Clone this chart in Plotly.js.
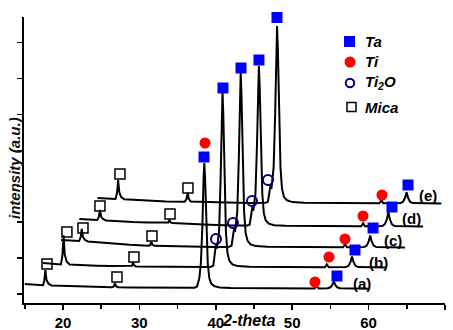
<!DOCTYPE html>
<html>
<head>
<meta charset="utf-8">
<script src="https://cdn.plot.ly/plotly-3.0.1.min.js"></script>
<style>html,body{margin:0;padding:0;background:#fff;}#chart{width:453px;height:330px;}</style>
</head>
<body>
<div id="chart"></div>
<script>
// ---- data: XRD patterns (local 2-theta, intensity a.u.) ----
const curveNames = ['(a)', '(b)', '(c)', '(d)', '(e)'];
// waterfall stacking of the patterns
const xShift = [0, 2.38, 4.76, 7.14, 9.52];
const yOffset = [0, 210, 410, 620, 850];

const theta_a = [15.0, 16.0, 17.0, 17.4, 17.55, 17.7, 17.85, 18.1, 18.5, 19.0, 20.0, 22.0, 24.0, 26.4, 26.65, 26.8, 26.95, 27.2, 29.0, 32.0, 35.0, 36.5, 37.2, 37.55, 37.85, 38.05, 38.25, 38.4, 38.5, 38.6, 38.75, 38.95, 39.15, 39.4, 39.8, 40.5, 42.0, 45.0, 48.0, 51.0, 52.9, 53.2, 53.5, 54.65, 55.0, 55.25, 55.45, 55.65, 55.9, 56.25, 58.0, 60.0];
const int_a = [190, 185, 180, 178, 223, 328, 230, 193, 176, 175, 172, 166, 162, 158, 165, 198, 168, 158, 155, 152, 150, 150, 153, 165, 250, 400, 775, 1250, 1400, 1250, 775, 400, 250, 194, 169, 156, 150, 150, 148, 146, 146, 166, 146, 148, 157, 181, 216, 181, 157, 148, 144, 143];

const theta_bcde = [15.0, 16.0, 17.0, 17.35, 17.55, 17.7, 17.85, 18.1, 18.5, 20.0, 22.0, 24.0, 26.4, 26.65, 26.8, 26.95, 27.2, 29.0, 32.0, 35.0, 36.5, 37.0, 37.3, 37.5, 37.65, 37.76, 37.88, 38.05, 38.25, 38.4, 38.5, 38.6, 38.75, 38.95, 39.15, 39.4, 39.8, 40.5, 42.0, 45.0, 48.0, 51.0, 51.9, 52.15, 52.4, 54.65, 55.0, 55.25, 55.45, 55.65, 55.9, 56.25, 58.0, 60.0];
const int_b = [190, 185, 178, 176, 263, 466, 276, 205, 174, 168, 163, 160, 156, 163, 196, 166, 156, 154, 152, 150, 150, 153, 165, 290, 380, 335, 400, 500, 1025, 1690, 1900, 1690, 1025, 500, 290, 211, 176, 159, 152, 150, 148, 147, 147, 177, 147, 149, 163, 201, 256, 201, 163, 149, 146, 146];
const int_c = [220, 216, 212, 210, 246, 330, 252, 222, 206, 195, 183, 172, 162, 169, 202, 172, 162, 158, 154, 151, 150, 153, 163, 265, 340, 300, 370, 498, 1020, 1680, 1890, 1680, 1020, 498, 289, 211, 176, 159, 152, 150, 148, 147, 147, 177, 147, 149, 164, 206, 266, 206, 164, 149, 146, 146];
const int_d = [220, 216, 212, 210, 240, 310, 245, 220, 206, 196, 190, 185, 180, 186, 210, 186, 180, 172, 163, 155, 152, 155, 165, 267, 342, 302, 365, 470, 950, 1558, 1750, 1558, 950, 470, 278, 206, 174, 158, 153, 150, 149, 148, 148, 178, 148, 150, 168, 217, 287, 217, 168, 150, 146, 146];
const int_e = [200, 196, 192, 190, 247, 380, 257, 209, 187, 180, 172, 166, 162, 190, 252, 192, 164, 158, 154, 151, 150, 153, 162, 258, 330, 290, 370, 504, 1035, 1708, 1920, 1708, 1035, 504, 292, 212, 177, 159, 152, 150, 149, 148, 148, 178, 148, 149, 163, 202, 257, 202, 163, 149, 146, 146];

const curveTheta = [theta_a, theta_bcde, theta_bcde, theta_bcde, theta_bcde];
const curveInt = [int_a, int_b, int_c, int_d, int_e];

// phase markers: pattern index, local 2-theta, intensity
const ta_curve = [0, 0, 1, 1, 2, 2, 3, 3, 4, 4];
const ta_theta = [38.46, 55.86, 38.56, 55.84, 38.54, 55.82, 38.51, 55.92, 38.49, 55.64];
const ta_int = [1460, 270, 1940, 320, 1940, 340, 1810, 340, 2005, 330];

const ti_curve = [0, 0, 1, 2, 3, 4];
const ti_theta = [38.59, 52.98, 52.44, 52.15, 52.13, 52.23];
const ti_int = [1600, 210, 250, 230, 250, 230];

const ti2o_curve = [1, 2, 3, 4];
const ti2o_theta = [37.65, 37.49, 37.60, 37.31];
const ti2o_int = [430, 390, 400, 380];

const mica_curve = [0, 0, 1, 1, 2, 2, 3, 3, 4, 4];
const mica_theta = [17.91, 27.07, 18.14, 26.91, 17.86, 26.89, 17.70, 26.87, 17.94, 26.84];
const mica_int = [390, 260, 500, 250, 340, 260, 350, 270, 440, 300];

const xTicks = [20, 30, 40, 50, 60, 70];
const phaseNames = ['Ta', 'Ti', 'Ti<sub>2</sub>O', 'Mica'];

// ---- build traces ----
const traces = [];
for (let i = 0; i < curveNames.length; i++) {
  traces.push({
    type: 'scatter', mode: 'lines', name: curveNames[i],
    x: curveTheta[i].map(t => t + xShift[i]),
    y: curveInt[i].map(v => v + yOffset[i]),
    line: {color: '#000', width: 2},
    showlegend: false, hoverinfo: 'skip'
  });
}
function markerTrace(name, cidx, th, it, marker) {
  return {
    type: 'scatter', mode: 'markers', name: name,
    x: th.map((t, k) => t + xShift[cidx[k]]),
    y: it.map((v, k) => v + yOffset[cidx[k]]),
    marker: marker, cliponaxis: false, showlegend: false, hoverinfo: 'skip'
  };
}
traces.push(markerTrace('Mica', mica_curve, mica_theta, mica_int,
  {symbol: 'square-open', size: 10, color: '#000', line: {width: 1.5, color: '#000'}}));
traces.push(markerTrace('Ti2O', ti2o_curve, ti2o_theta, ti2o_int,
  {symbol: 'circle-open', size: 10, color: '#000080', line: {width: 2, color: '#000080'}}));
traces.push(markerTrace('Ti', ti_curve, ti_theta, ti_int,
  {symbol: 'circle', size: 11, color: '#FF0000'}));
traces.push(markerTrace('Ta', ta_curve, ta_theta, ta_int,
  {symbol: 'square', size: 11, color: '#0000FF'}));

// ---- layout ----
const FONT = 'Liberation Sans, Arial, sans-serif';
const W = 453, H = 330, ML = 24, MR = 8, MT = 17, MB = 27;
const PW = W - ML - MR, PH = H - MT - MB;
const px2paperX = px => (px - ML) / PW;
const py2paperY = py => (H - MB - py) / PH;

const annotations = [];
// curve labels
const labelX = [59.14, 61.36, 63.19, 65.68, 67.77];
const labelY = [200, 410, 630, 850, 1080];
for (let i = 0; i < curveNames.length; i++) {
  annotations.push({x: labelX[i], y: labelY[i], xref: 'x', yref: 'y', text: curveNames[i],
    showarrow: false, xanchor: 'center', yanchor: 'middle',
    font: {family: FONT, size: 15, color: '#000', weight: 'bold'}});
}
// axis titles
annotations.push({x: px2paperX(249), y: py2paperY(330), xref: 'paper', yref: 'paper', text: '2-theta',
  showarrow: false, xanchor: 'center', yanchor: 'bottom', borderpad: 0,
  font: {family: FONT, size: 16, color: '#000', weight: 'bold', style: 'italic'}});
annotations.push({x: px2paperX(15), y: py2paperY(168), xref: 'paper', yref: 'paper', text: 'intensity (a.u.)',
  showarrow: false, xanchor: 'center', yanchor: 'middle', textangle: -90,
  font: {family: FONT, size: 15, color: '#111', weight: 'bold', style: 'italic'}});

// legend (symbols as shapes, text as annotations)
const legY = [41.5, 62, 83, 107];
const shapes = [
  {type: 'rect', xref: 'paper', yref: 'paper', xsizemode: 'pixel', ysizemode: 'pixel',
   xanchor: px2paperX(349.5), yanchor: py2paperY(legY[0]), x0: -5.5, x1: 5.5, y0: -5.5, y1: 5.5,
   fillcolor: '#0000FF', line: {width: 0}},
  {type: 'circle', xref: 'paper', yref: 'paper', xsizemode: 'pixel', ysizemode: 'pixel',
   xanchor: px2paperX(350), yanchor: py2paperY(legY[1]), x0: -5.5, x1: 5.5, y0: -5.5, y1: 5.5,
   fillcolor: '#FF0000', line: {width: 0}},
  {type: 'circle', xref: 'paper', yref: 'paper', xsizemode: 'pixel', ysizemode: 'pixel',
   xanchor: px2paperX(350), yanchor: py2paperY(legY[2]), x0: -4.2, x1: 4.2, y0: -4.2, y1: 4.2,
   fillcolor: 'rgba(0,0,0,0)', line: {width: 2, color: '#000080'}},
  {type: 'rect', xref: 'paper', yref: 'paper', xsizemode: 'pixel', ysizemode: 'pixel',
   xanchor: px2paperX(351.5), yanchor: py2paperY(legY[3]), x0: -4.5, x1: 4.5, y0: -4.5, y1: 4.5,
   fillcolor: 'rgba(0,0,0,0)', line: {width: 1.5, color: '#000'}}
];
for (let k = 0; k < phaseNames.length; k++) {
  annotations.push({x: px2paperX(363), y: py2paperY(legY[k]), xref: 'paper', yref: 'paper',
    text: phaseNames[k], showarrow: false, xanchor: 'left', yanchor: 'middle',
    font: {family: FONT, size: 15, color: '#000', weight: 'bold', style: 'italic'}});
}

const layout = {
  width: W, height: H,
  margin: {l: ML, r: MR, t: MT, b: MB, pad: 0},
  paper_bgcolor: '#fff', plot_bgcolor: '#fff',
  showlegend: false,
  xaxis: {
    range: [14.9, 70], tickvals: xTicks, ticktext: xTicks.map(String),
    ticks: 'outside', ticklen: 5, tickwidth: 1.5, tickcolor: '#000',
    minor: {dtick: 5, tick0: 0, ticks: 'outside', ticklen: 4, tickwidth: 1.5, tickcolor: '#000', showgrid: false},
    showline: true, linecolor: '#000', linewidth: 2, mirror: false,
    showgrid: false, zeroline: false,
    tickfont: {family: FONT, size: 15, color: '#000', weight: 'bold'}
  },
  yaxis: {
    range: [0, 2860], tick0: 90, dtick: 359,
    ticks: 'outside', ticklen: 5, tickwidth: 1.5, tickcolor: '#000',
    showticklabels: false,
    showline: true, linecolor: '#000', linewidth: 2, mirror: false,
    showgrid: false, zeroline: false
  },
  annotations: annotations,
  shapes: shapes
};

Plotly.newPlot('chart', traces, layout, {staticPlot: true, displayModeBar: false});
</script>
</body>
</html>
